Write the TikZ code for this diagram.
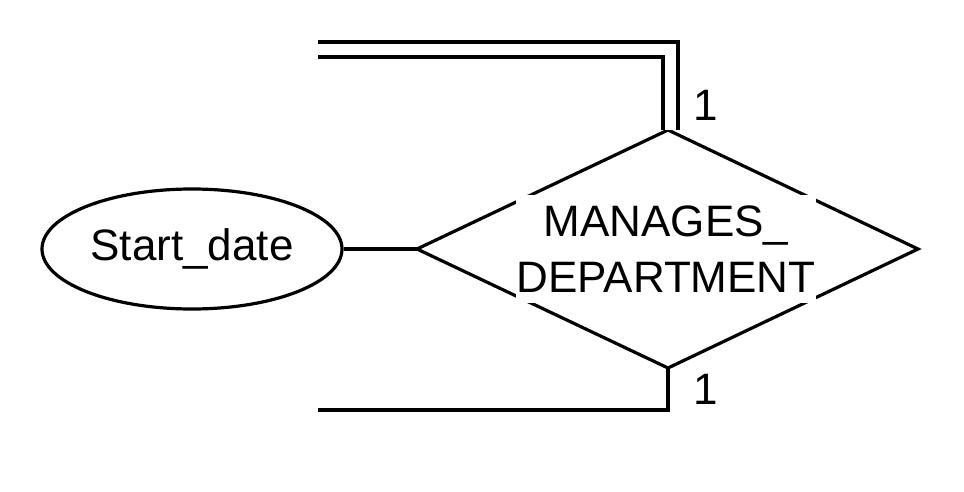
\documentclass[tikz,border=0pt]{standalone}
\usepackage{fontspec}
\setmainfont{Liberation Sans}
\usetikzlibrary{shapes.geometric}
\begin{document}
\begin{tikzpicture}[x=0.75pt,y=-0.75pt,
  ln/.style={line width=2.4pt},
  attr/.style={ellipse, draw, line width=2.4pt, minimum width=225pt, minimum height=90pt, inner sep=0pt, font=\fontsize{33}{42}\selectfont},
  lbl/.style={font=\fontsize{33}{42}\selectfont, inner sep=0pt},
  reltext/.style={fill=white, align=center, inner sep=0pt, minimum width=223pt, minimum height=81pt, font=\fontsize{33}{42}\selectfont}]
\useasboundingbox (0,0) rectangle (964,492);
% attribute
\node[attr] (start) at (192,249) {Start\_date};
% relationship diamond
\coordinate (dl) at (417,249);
\coordinate (dr) at (918,249);
\coordinate (dt) at (668,130);
\coordinate (db) at (668,368);
\draw[ln, line join=miter] (dl) -- (dt) -- (dr) -- (db) -- cycle;
\node[reltext] (rel) at (666,249) {MANAGES\_\\DEPARTMENT};
% connectors
\draw[ln] (start.east) -- (dl);
\coordinate (topfree) at (318,49.5);
\coordinate (topcorner) at (670.5,49.5);
\coordinate (topend) at (670.5,130);
\draw[line width=2.4pt, double, double distance=8.85pt] (topfree) -- (topcorner) -- (topend);
\coordinate (botfree) at (318,410);
\coordinate (botcorner) at (668,410);
\draw[ln] (db) -- (botcorner) -- (botfree);
% cardinality labels
\node[lbl] (c1) at (706,105) {1};
\node[lbl] (c2) at (706,389) {1};
\end{tikzpicture}
\end{document}
